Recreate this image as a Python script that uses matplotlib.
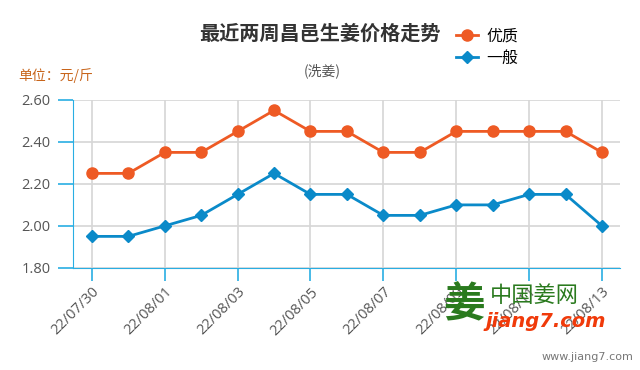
import matplotlib
matplotlib.use("Agg")
import matplotlib.pyplot as plt

plt.rcParams['font.family'] = ['Noto Sans CJK SC', 'DejaVu Sans']

dates = ["22/07/30", "22/07/31", "22/08/01", "22/08/02", "22/08/03", "22/08/04",
         "22/08/05", "22/08/06", "22/08/07", "22/08/08", "22/08/09", "22/08/10",
         "22/08/11", "22/08/12", "22/08/13"]
good = [2.25, 2.25, 2.35, 2.35, 2.45, 2.55, 2.45, 2.45, 2.35, 2.35, 2.45, 2.45, 2.45, 2.45, 2.35]
normal = [1.95, 1.95, 2.00, 2.05, 2.15, 2.25, 2.15, 2.15, 2.05, 2.05, 2.10, 2.10, 2.15, 2.15, 2.00]
yticks = [1.80, 2.00, 2.20, 2.40, 2.60]

orange = "#ee5a24"
blue = "#0a8ac9"
axis_blue = "#29aee3"

fig = plt.figure(figsize=(6.4, 3.7), dpi=100)
ax = fig.add_axes([0.114, 0.276, 0.855, 0.454])

x = list(range(len(dates)))
ax.plot(x, good, color=orange, lw=2, marker="o", ms=8, label="优质", zorder=3)
ax.plot(x, normal, color=blue, lw=2, marker="D", ms=6, label="一般", zorder=3)

ax.set_xlim(-0.52, 14.5)
ax.set_ylim(1.80, 2.60)
ax.set_yticks(yticks)
ax.set_yticklabels(["%.2f" % v for v in yticks], color="#555555", fontsize=10.5,
                   family="Open Sans")
ax.set_xticks(x[::2])
ax.set_xticklabels(dates[::2], rotation=45, ha="right", rotation_mode="anchor",
                   color="#555555", fontsize=10.5, family="Open Sans")
ax.grid(True, color="#d6d6d6", lw=1.2)
ax.set_axisbelow(True)
for s in ["top", "right"]:
    ax.spines[s].set_visible(False)
ax.spines["left"].set_color(axis_blue)
ax.spines["bottom"].set_color(axis_blue)
ax.tick_params(axis="y", color=axis_blue, length=11, width=1.2, pad=5)
ax.tick_params(axis="x", color=axis_blue, length=9, width=1.2, pad=3)

fig.text(0.5, 0.91, "最近两周昌邑生姜价格走势", ha="center", va="center",
         fontsize=14.5, fontweight="bold", color="#333333")
fig.text(0.503, 0.808, "(洗姜)", ha="center", va="center", fontsize=10, color="#555555")
fig.text(0.028, 0.797, "单位：元/斤", ha="left", va="center", fontsize=10, color="#c8651b")

fig.legend(loc="upper left", bbox_to_anchor=(0.69, 0.965), frameon=False,
           fontsize=11.5, handlelength=1.4, handletextpad=0.5, labelspacing=0.35)

# watermark
fig.text(0.693, 0.175, "姜", fontsize=30, color="#2a7a1e", fontweight="bold", va="center")
fig.text(0.765, 0.2, "中国姜网", fontsize=16, color="#2a7a1e", va="center")
fig.text(0.758, 0.13, "jiang7.com", fontsize=14, color="#f03a0a", fontweight="bold",
         style="italic", va="center", family="DejaVu Sans")
fig.text(0.99, 0.035, "www.jiang7.com", fontsize=8, color="#777777", ha="right", va="center",
         family="DejaVu Sans")

fig.savefig("out.png", dpi=100)
